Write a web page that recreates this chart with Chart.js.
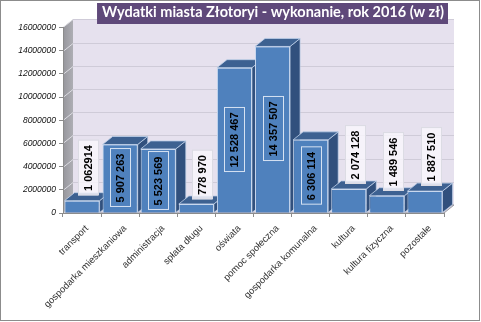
<!DOCTYPE html>
<html>
<head>
<meta charset="utf-8">
<script src="https://cdn.jsdelivr.net/npm/chart.js@4/dist/chart.umd.min.js"></script>
<style>
  html, body { margin: 0; padding: 0; background: #fff; }
  canvas { display: block; }
</style>
</head>
<body>
<canvas id="wydatki" width="481" height="322"></canvas>
<script>
const categories = ['transport', 'gospodarka mieszkaniowa', 'administracja', 'spłata długu', 'oświata',
    'pomoc społeczna', 'gospodarka komunalna', 'kultura', 'kultura fizyczna', 'pozostałe'];
const values = [1062914, 5907263, 5523569, 778970, 12528467, 14357507, 6306114, 2074128, 1489546, 1887510];
const valueLabels = ['1 062914', '5 907 263', '5 523 569', '778 970', '12 528 467', '14 357 507',
    '6 306 114', '2 074 128', '1 489 546', '1 887 510'];
const yTicks = [0, 2000000, 4000000, 6000000, 8000000, 10000000, 12000000, 14000000, 16000000];
const titleText = 'Wydatki miasta Złotoryi - wykonanie, rok 2016 (w zł)';

// depth of the fake 3D look
const depth = { x: 10, y: 8 };

function poly(ctx, pts, fill, stroke) {
    ctx.beginPath();
    ctx.moveTo(pts[0][0], pts[0][1]);
    for (let i = 1; i < pts.length; i++) ctx.lineTo(pts[i][0], pts[i][1]);
    ctx.closePath();
    if (fill) { ctx.fillStyle = fill; ctx.fill(); }
    if (stroke) { ctx.strokeStyle = stroke; ctx.lineWidth = 1; ctx.stroke(); }
}

const threeD = {
    id: 'threeD',
    beforeDraw(chart) {
        const ctx = chart.ctx;
        const a = chart.chartArea;
        const y = chart.scales.y;
        ctx.save();
        ctx.fillStyle = '#fff';
        ctx.fillRect(0, 0, chart.width, chart.height);

        // back wall
        ctx.fillStyle = '#e6e1ee';
        ctx.fillRect(a.left + depth.x, a.top - depth.y, a.right - a.left, a.bottom - a.top);

        // side wall
        const g = ctx.createLinearGradient(a.left, 0, a.left + depth.x, 0);
        g.addColorStop(0, '#96969c');
        g.addColorStop(1, '#aeaeb4');
        poly(ctx, [[a.left, a.top], [a.left + depth.x, a.top - depth.y],
            [a.left + depth.x, a.bottom - depth.y], [a.left, a.bottom]], g);

        // floor
        poly(ctx, [[a.left, a.bottom], [a.left + depth.x, a.bottom - depth.y],
            [a.right + depth.x, a.bottom - depth.y], [a.right, a.bottom]], '#d9d4e2', '#9a9aa2');

        // grid lines on the walls
        ctx.lineWidth = 1;
        yTicks.forEach(v => {
            const py = Math.round(y.getPixelForValue(v)) + 0.5;
            if (v > 0) {
                ctx.strokeStyle = '#cfcbd8';
                ctx.beginPath();
                ctx.moveTo(a.left + depth.x, py - depth.y);
                ctx.lineTo(a.right + depth.x, py - depth.y);
                ctx.stroke();
            }
            ctx.strokeStyle = '#dcdce2';
            ctx.beginPath();
            ctx.moveTo(a.left, py);
            ctx.lineTo(a.left + depth.x, py - depth.y);
            ctx.stroke();
        });

        // title box
        const t = chart.titleBlock;
        ctx.font = 'bold 14.5px Lato';
        const tw = ctx.measureText(titleText).width;
        ctx.fillStyle = '#5f497a';
        ctx.fillRect(t.right - tw - 5, 3, tw + 9, 21);

        // outer frame
        ctx.strokeStyle = '#8c8c8c';
        ctx.strokeRect(0.5, 0.5, chart.width - 2, chart.height - 2);
        ctx.restore();
    },
    afterDatasetsDraw(chart) {
        const ctx = chart.ctx;
        const meta = chart.getDatasetMeta(0);
        ctx.save();
        meta.data.forEach(bar => {
            const p = bar.getProps(['x', 'y', 'base', 'width'], true);
            const l = p.x - p.width / 2, r = p.x + p.width / 2;
            // side face
            poly(ctx, [[r, p.y], [r + depth.x, p.y - depth.y], [r + depth.x, p.base - depth.y], [r, p.base]],
                '#31507d', 'rgba(190,208,232,0.7)');
            // top face
            poly(ctx, [[l, p.y], [l + depth.x, p.y - depth.y], [r + depth.x, p.y - depth.y], [r, p.y]],
                '#3d6191', 'rgba(190,208,232,0.8)');
            // front face again, so it hides the side of the bar on its left
            bar.draw(ctx);
        });

        // value labels, rotated
        ctx.font = 'bold 11px "Liberation Sans"';
        ctx.textAlign = 'center';
        ctx.textBaseline = 'middle';
        meta.data.forEach((bar, i) => {
            const p = bar.getProps(['x', 'y', 'base', 'width'], true);
            const txt = valueLabels[i];
            const len = ctx.measureText(txt).width + 9;
            const w = 20;
            let cx, cy, inside;
            if (p.base - p.y >= 40) {
                cx = p.x; cy = (p.y + p.base) / 2; inside = true;
            } else {
                cx = p.x + depth.x * 0.6; cy = p.y - 5 - len / 2; inside = false;
            }
            ctx.save();
            ctx.translate(Math.round(cx), Math.round(cy));
            ctx.rotate(-Math.PI / 2);
            ctx.lineWidth = 1;
            if (inside) {
                ctx.strokeStyle = '#d6e2f2';
                ctx.strokeRect(-len / 2 + 0.5, -w / 2 + 0.5, len, w);
            } else {
                ctx.fillStyle = 'rgba(248,246,252,0.85)';
                ctx.fillRect(-len / 2, -w / 2, len, w);
                ctx.strokeStyle = '#dcdce4';
                ctx.strokeRect(-len / 2 + 0.5, -w / 2 + 0.5, len, w);
            }
            ctx.fillStyle = '#000';
            ctx.fillText(txt, 0, 1);
            ctx.restore();
        });
        ctx.restore();
    }
};

new Chart(document.getElementById('wydatki').getContext('2d'), {
    type: 'bar',
    data: {
        labels: categories,
        datasets: [{
            data: values,
            backgroundColor: '#4f81bd',
            borderColor: '#c9d8ee',
            borderWidth: 1,
            categoryPercentage: 0.92,
            barPercentage: 1
        }]
    },
    options: {
        responsive: false,
        animation: false,
        devicePixelRatio: 1,
        layout: { padding: { left: 0, right: 37, top: 0, bottom: 0 } },
        plugins: {
            legend: { display: false },
            tooltip: { enabled: false },
            title: {
                display: true,
                text: titleText,
                align: 'end',
                color: '#fff',
                font: { family: 'Lato', size: 14.5, weight: 'bold', lineHeight: 1.2 },
                padding: { top: 4, bottom: 6 }
            }
        },
        scales: {
            x: {
                grid: { offset: true, drawOnChartArea: false, tickLength: 4, color: '#8c8c8c' },
                border: { color: '#8c8c8c' },
                ticks: {
                    autoSkip: false,
                    minRotation: 45,
                    maxRotation: 45,
                    padding: 6,
                    labelOffset: 5,
                    color: '#333',
                    font: { family: 'Liberation Sans', size: 9.5 }
                },
                afterFit: s => { s.height = 109; }
            },
            y: {
                min: 0,
                max: 16000000,
                grid: { drawOnChartArea: false, tickLength: 4, color: '#8c8c8c' },
                border: { color: '#8c8c8c' },
                ticks: {
                    padding: 3,
                    color: '#111',
                    font: { family: 'Liberation Sans', size: 8.5, style: 'italic' },
                    callback: v => String(v)
                },
                afterBuildTicks: s => { s.ticks = yTicks.map(v => ({ value: v })); },
                afterFit: s => { s.width = 63; }
            }
        }
    },
    plugins: [threeD]
});
</script>
</body>
</html>
